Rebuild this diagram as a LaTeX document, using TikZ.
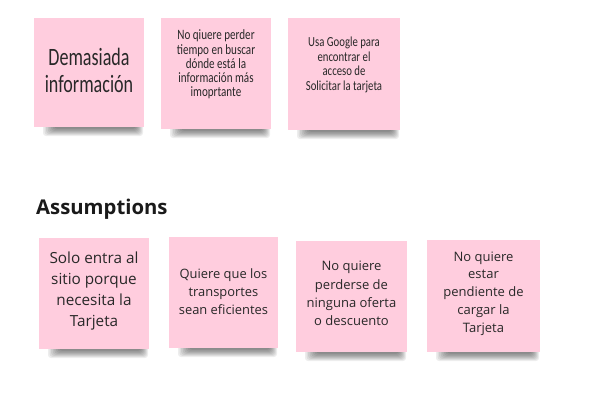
\documentclass[tikz,border=0pt]{standalone}
\usepackage{fontspec}
\setmainfont{Open Sans}
\newfontfamily\handfont[FakeStretch=0.84]{Carlito}
\definecolor{notepink}{RGB}{255,205,222}
\definecolor{notetext}{RGB}{40,40,40}
\definecolor{headtext}{RGB}{26,26,26}
\newcommand{\tl}[2][1.16]{\scalebox{1}[#1]{#2}}
\newcommand{\noteshadow}[3]{% x0, x1, ybottom
  \foreach \k in {0,...,7}{
    \fill[black,opacity=0.07,rounded corners=3pt]
      ({#1+9+\k*1.6},{#3-5}) rectangle ({#2-1-\k*1.0},{#3+9-\k*1.05});
  }}
\tikzset{
  note/.style={fill=notepink,draw=none,inner sep=0pt,minimum width=#1,minimum height=111pt},
  note/.default=110pt,
  handtxt/.style={align=center,text=notetext,inner sep=0pt},
  plaintxt/.style={align=center,text=notetext,inner sep=0pt},
  heading/.style={anchor=base west,inner sep=0pt,text=headtext,font=\bfseries\fontsize{20.3}{24}\selectfont}
}
\begin{document}
\begin{tikzpicture}[x=1pt,y=-1pt]
\useasboundingbox (0,0) rectangle (598,402);
\fill[white] (0,0) rectangle (598,402);
% shadows
\noteshadow{34}{144}{127}
\noteshadow{161}{271}{129}
\noteshadow{288}{400}{130}
\noteshadow{39}{149}{349}
\noteshadow{169}{278}{348}
\noteshadow{296}{407}{352}
\noteshadow{427}{540}{352}
% top notes
\node[note, minimum height=109pt] (t1) at (89,72.5) {};
\node[note] (t2) at (216,73.5) {};
\node[note=112pt, minimum height=112pt] (t3) at (344,74) {};
\node[handtxt, font=\handfont\fontsize{21.5}{27}\selectfont] (t1txt) at (89,70) {\tl{Demasiada}\\\tl{información}};
\node[handtxt, font=\handfont\fontsize{13.2}{14.2}\selectfont] (t2txt) at (216,64.5) {\tl[1.08]{No qiuere perder}\\\tl[1.08]{tiempo en buscar}\\\tl[1.08]{dónde está la}\\\tl[1.08]{información más}\\\tl[1.08]{imoprtante}};
\node[handtxt, font=\handfont\fontsize{12.8}{14.5}\selectfont] (t3txt) at (344,65) {\tl[1.08]{Usa Google para}\\\tl[1.08]{encontrar el}\\\tl[1.08]{acceso de}\\\tl[1.08]{Solicitar la tarjeta}};
% heading
\node[heading] (head) at (36,214) {Assumptions};
% bottom notes
\node[note] (b1) at (94,293.5) {};
\node[note=109pt] (b2) at (223.5,292.5) {};
\node[note=111pt] (b3) at (351.5,296.5) {};
\node[note=113pt, minimum height=112pt] (b4) at (483.5,296) {};
\node[plaintxt, font=\fontsize{15.3}{21}\selectfont] (b1txt) at (94,291) {Solo entra al\\sitio porque\\necesita la\\Tarjeta};
\node[plaintxt, font=\fontsize{12.9}{17.7}\selectfont] (b2txt) at (223.5,291.5) {Quiere que los\\transportes\\sean eficientes};
\node[plaintxt, font=\fontsize{13}{18.3}\selectfont] (b3txt) at (351.5,293.5) {No quiere\\perderse de\\ninguna oferta\\o descuento};
\node[plaintxt, font=\fontsize{13}{17.8}\selectfont] (b4txt) at (483.5,293.5) {No quiere\\estar\\pendiente de\\cargar la\\Tarjeta};
\end{tikzpicture}
\end{document}
